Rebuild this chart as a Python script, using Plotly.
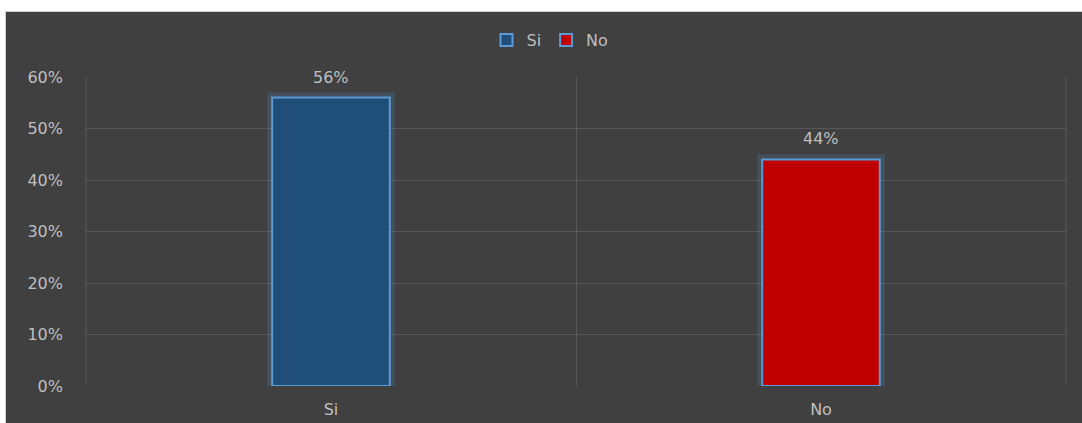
import plotly.graph_objects as go

categories = ["Si", "No"]
values = [0.56, 0.44]
colors = ["#1F4E79", "#C00000"]
y_ticks = [0, 0.1, 0.2, 0.3, 0.4, 0.5, 0.6]
y_ticklabels = ["0%", "10%", "20%", "30%", "40%", "50%", "60%"]

W, H = 1082, 423
L, R, T, B = 86, 1066, 77, 386
pw, ph = R - L, B - T
FONT = "DejaVu Sans"
TXT = "#BFBFBF"
GRID = "#575757"

fig = go.Figure()
# glow
for cat, val in zip(categories, values):
    fig.add_trace(go.Bar(
        x=[cat], y=[val], width=0.24, showlegend=False, hoverinfo="skip",
        marker=dict(color="rgba(0,0,0,0)", line=dict(color="rgba(91,155,213,0.18)", width=10)),
    ))
for cat, val, col in zip(categories, values, colors):
    fig.add_trace(go.Bar(
        x=[cat], y=[val], name=cat, width=0.24,
        marker=dict(color=col, line=dict(color="#5B9BD5", width=2)),
    ))

annotations = [
    dict(x=cat, y=val, xref="x", yref="y", text=f"{round(val*100)}%",
         showarrow=False, yanchor="bottom", yshift=9,
         font=dict(color=TXT, size=16, family=FONT))
    for cat, val in zip(categories, values)
]

fig.update_layout(
    width=W, height=H,
    margin=dict(l=L, r=W - R, t=T, b=H - B, pad=0, autoexpand=False),
    paper_bgcolor="white",
    plot_bgcolor="rgba(0,0,0,0)",
    barmode="overlay",
    font=dict(family=FONT, color=TXT, size=16),
    showlegend=True,
    annotations=annotations,
    legend=dict(orientation="h", x=(550 - L) / pw, xanchor="center",
                y=(B - 40) / ph, yanchor="middle",
                font=dict(size=16, color=TXT, family=FONT), bgcolor="rgba(0,0,0,0)",
                itemwidth=30, traceorder="normal"),
    shapes=[
        dict(type="rect", xref="paper", yref="paper", layer="below",
             x0=(5.5 - L) / pw, x1=(W + 2 - L) / pw,
             y0=-(H - B + 2) / ph, y1=(B - 11.5) / ph,
             fillcolor="#404040", line=dict(color="#D0D0D0", width=1)),
        dict(type="line", xref="paper", yref="paper", layer="below",
             x0=0, x1=0, y0=0, y1=1, line=dict(color=GRID, width=1)),
        dict(type="line", xref="paper", yref="paper", layer="below",
             x0=1, x1=1, y0=0, y1=1, line=dict(color=GRID, width=1)),
    ],
    xaxis=dict(type="category", categoryorder="array", categoryarray=categories,
               tickson="boundaries", showgrid=True, gridcolor=GRID, gridwidth=1,
               ticks="", showline=False, zeroline=False, automargin=False,
               tickfont=dict(size=16, color=TXT, family=FONT), ticklabelstandoff=12),
    yaxis=dict(range=[0, 0.6], tickvals=y_ticks, ticktext=y_ticklabels,
               showgrid=True, gridcolor=GRID, gridwidth=1, zeroline=False,
               showline=False, ticks="", ticklabelstandoff=22, automargin=False,
               tickfont=dict(size=16, color=TXT, family=FONT)),
)

fig.write_html("out.html", config={"displayModeBar": False},
               post_script="document.body.style.margin='0';document.body.style.padding='0';")
